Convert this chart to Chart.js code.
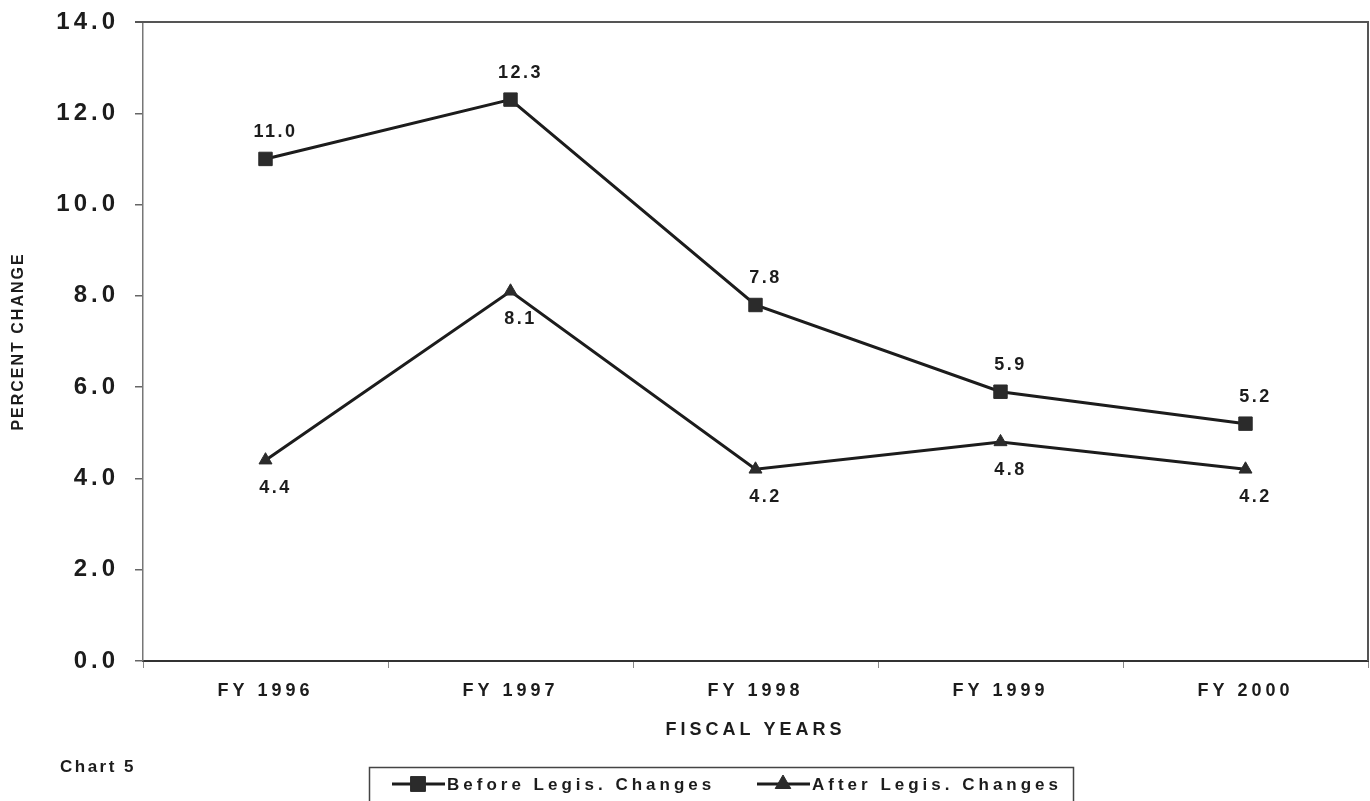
<!DOCTYPE html>
<html>
<head>
<meta charset="utf-8">
<script src="https://cdn.jsdelivr.net/npm/chart.js@4.4.1/dist/chart.umd.min.js"></script>
<style>
  html, body { margin: 0; padding: 0; background: #ffffff; }
  #wrap { width: 1370px; height: 801px; position: relative; }
</style>
</head>
<body>
<div id="wrap"><canvas id="chart" width="1370" height="801"></canvas></div>
<script>
// Fiscal years on the category axis
const fiscalYears = ['FY 1996', 'FY 1997', 'FY 1998', 'FY 1999', 'FY 2000'];

// Percent change in the forecast, before and after legislative changes
const beforeLegisChanges = [11.0, 12.3, 7.8, 5.9, 5.2];
const afterLegisChanges = [4.4, 8.1, 4.2, 4.8, 4.2];

// Value axis range and step
const yMin = 0;
const yMax = 14;
const yStep = 2;

const seriesNames = ['Before Legis. Changes', 'After Legis. Changes'];
const xAxisTitle = 'FISCAL YEARS';
const yAxisTitle = 'PERCENT CHANGE';
const chartCaption = 'Chart 5';

const FONT = "'Liberation Sans', Arial, Helvetica, sans-serif";
const INK = '#1c1c1c';

// Wide tracking used by the axis text
const spacingPlugin = {
  id: 'tracking',
  beforeUpdate(chart) { chart.ctx.letterSpacing = '4px'; },
  beforeDraw(chart) { chart.ctx.letterSpacing = '4px'; }
};

// Outline of the plot area on the top and right sides, and the value-axis title
const frameBox = {
  id: 'frameBox',
  afterDraw(chart) {
    const { ctx, chartArea: a } = chart;
    ctx.save();
    ctx.strokeStyle = '#555';
    ctx.lineWidth = 2;
    ctx.beginPath();
    ctx.moveTo(a.left - 8, a.top);
    ctx.lineTo(a.right, a.top);
    ctx.lineTo(a.right, a.bottom);
    ctx.stroke();

    ctx.translate(19, (a.top + a.bottom) / 2);
    ctx.rotate(-Math.PI / 2);
    ctx.letterSpacing = '2px';
    ctx.font = 'bold 16px ' + FONT;
    ctx.fillStyle = INK;
    ctx.textAlign = 'center';
    ctx.textBaseline = 'middle';
    ctx.fillText(yAxisTitle, 0, 0);
    ctx.restore();
  }
};

// Value labels: above the "before" points, below the "after" points
const valueLabels = {
  id: 'valueLabels',
  afterDatasetsDraw(chart) {
    const { ctx } = chart;
    ctx.save();
    ctx.letterSpacing = '2.5px';
    ctx.font = 'bold 18px ' + FONT;
    ctx.fillStyle = INK;
    ctx.textAlign = 'center';
    ctx.textBaseline = 'middle';
    chart.data.datasets.forEach((ds, i) => {
      const meta = chart.getDatasetMeta(i);
      const dy = i === 0 ? -27 : 28;
      meta.data.forEach((pt, j) => {
        ctx.fillText(ds.data[j].toFixed(1), pt.x + 10, pt.y + dy);
      });
    });
    ctx.restore();
  }
};

// Boxed legend at the foot of the chart, plus the chart number
const boxedLegend = {
  id: 'boxedLegend',
  afterDraw(chart) {
    const { ctx } = chart;
    ctx.save();
    ctx.letterSpacing = '2.5px';
    ctx.font = 'bold 17px ' + FONT;
    ctx.fillStyle = INK;
    ctx.textAlign = 'left';
    ctx.textBaseline = 'middle';
    ctx.fillText(chartCaption, 60, 767);

    ctx.strokeStyle = '#444';
    ctx.lineWidth = 1.5;
    ctx.strokeRect(369.5, 767.5, 704, 40);

    const items = [
      { x: 392, ds: chart.data.datasets[0] },
      { x: 757, ds: chart.data.datasets[1] }
    ];
    const y = 784;
    ctx.letterSpacing = '4px';
    ctx.font = 'bold 17px ' + FONT;
    items.forEach(it => {
      ctx.strokeStyle = it.ds.borderColor;
      ctx.lineWidth = 3;
      ctx.beginPath();
      ctx.moveTo(it.x, y);
      ctx.lineTo(it.x + 53, y);
      ctx.stroke();
      ctx.fillStyle = it.ds.pointBackgroundColor;
      ctx.strokeStyle = it.ds.pointBorderColor;
      ctx.lineWidth = 1;
      Chart.helpers.drawPoint(ctx, {
        pointStyle: it.ds.pointStyle,
        rotation: 0,
        borderWidth: 1,
        radius: it.ds.pointStyle === 'rect' ? 10.5 : 9
      }, it.x + 26, y);
      ctx.fillStyle = INK;
      ctx.fillText(it.ds.label, it.x + 55, y + 1);
    });
    ctx.restore();
  }
};

new Chart(document.getElementById('chart'), {
  type: 'line',
  data: {
    labels: fiscalYears,
    datasets: [
      {
        label: seriesNames[0],
        data: beforeLegisChanges,
        borderColor: INK,
        borderWidth: 3,
        pointStyle: 'rect',
        pointRadius: 9.5,
        pointHoverRadius: 9.5,
        pointBackgroundColor: '#2b2b2b',
        pointBorderColor: '#2b2b2b',
        pointBorderWidth: 1,
        tension: 0
      },
      {
        label: seriesNames[1],
        data: afterLegisChanges,
        borderColor: INK,
        borderWidth: 3,
        pointStyle: 'triangle',
        pointRadius: 7.5,
        pointHoverRadius: 7.5,
        pointBackgroundColor: '#2b2b2b',
        pointBorderColor: '#2b2b2b',
        pointBorderWidth: 1,
        tension: 0
      }
    ]
  },
  options: {
    responsive: false,
    animation: false,
    events: [],
    layout: { autoPadding: false, padding: { top: 22, right: 2, left: 0, bottom: 0 } },
    plugins: {
      legend: { display: false },
      tooltip: { enabled: false }
    },
    scales: {
      x: {
        type: 'category',
        offset: true,
        afterFit(scale) {
          scale.height = 140;
          scale.paddingLeft = 0;
          scale.paddingRight = 0;
        },
        border: { display: true, color: '#333', width: 2 },
        grid: {
          offset: true,
          drawOnChartArea: false,
          drawTicks: true,
          tickLength: 7,
          color: '#888',
          lineWidth: 1
        },
        ticks: {
          color: INK,
          font: { family: FONT, size: 18, weight: 'bold' },
          padding: 12,
          maxRotation: 0
        },
        title: {
          display: true,
          text: xAxisTitle,
          color: INK,
          font: { family: FONT, size: 18, weight: 'bold' },
          padding: { top: 0, bottom: 60 }
        }
      },
      y: {
        min: yMin,
        max: yMax,
        afterFit(scale) {
          scale.width = 143;
          scale.paddingTop = 0;
          scale.paddingBottom = 0;
        },
        border: { display: true, color: '#777', width: 1.5 },
        grid: {
          drawOnChartArea: false,
          drawTicks: true,
          tickLength: 8,
          color: '#666',
          lineWidth: 1.5
        },
        ticks: {
          stepSize: yStep,
          color: INK,
          font: { family: FONT, size: 24, weight: 'bold' },
          padding: 16,
          callback: v => Number(v).toFixed(1)
        },
        title: { display: false }
      }
    }
  },
  plugins: [spacingPlugin, frameBox, valueLabels, boxedLegend]
});
</script>
</body>
</html>
